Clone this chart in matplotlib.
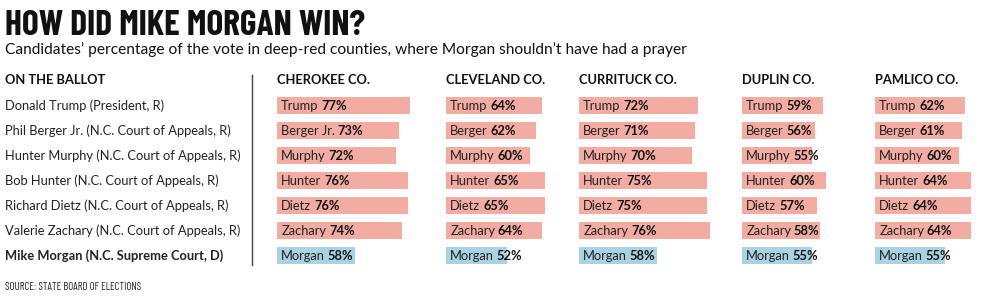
import matplotlib
matplotlib.use("Agg")
import matplotlib.pyplot as plt
from matplotlib.lines import Line2D
from matplotlib.transforms import blended_transform_factory

# ---- data ----
candidates = [
    "Donald Trump (President, R)",
    "Phil Berger Jr. (N.C. Court of Appeals, R)",
    "Hunter Murphy (N.C. Court of Appeals, R)",
    "Bob Hunter (N.C. Court of Appeals, R)",
    "Richard Dietz (N.C. Court of Appeals, R)",
    "Valerie Zachary (N.C. Court of Appeals, R)",
    "Mike Morgan (N.C. Supreme Court, D)",
]
counties = ["CHEROKEE CO.", "CLEVELAND CO.", "CURRITUCK CO.", "DUPLIN CO.", "PAMLICO CO."]
short_names = {
    "CHEROKEE CO.": ["Trump", "Berger Jr.", "Murphy", "Hunter", "Dietz", "Zachary", "Morgan"],
    "CLEVELAND CO.": ["Trump", "Berger", "Murphy", "Hunter", "Dietz", "Zachary", "Morgan"],
    "CURRITUCK CO.": ["Trump", "Berger", "Murphy", "Hunter", "Dietz", "Zachary", "Morgan"],
    "DUPLIN CO.": ["Trump", "Berger", "Murphy", "Hunter", "Dietz", "Zachary", "Morgan"],
    "PAMLICO CO.": ["Trump", "Berger", "Murphy", "Hunter", "Dietz", "Zachary", "Morgan"],
}
cherokee = [77, 73, 72, 76, 76, 74, 58]
cleveland = [64, 62, 60, 65, 65, 64, 52]
currituck = [72, 71, 70, 75, 75, 76, 58]
duplin = [59, 56, 55, 60, 57, 58, 55]
pamlico = [62, 61, 60, 64, 64, 64, 55]
values = [cherokee, cleveland, currituck, duplin, pamlico]
parties = ["R", "R", "R", "R", "R", "R", "D"]

title = "HOW DID MIKE MORGAN WIN?"
subtitle = "Candidates\u2019 percentage of the vote in deep-red counties, where Morgan shouldn\u2019t have had a prayer"
left_header = "ON THE BALLOT"
source = "SOURCE: STATE BOARD OF ELECTIONS"

# ---- style ----
W, H = 1000, 297
RED = "#f3aca2"
BLUE = "#a9d3e3"
BODY = "Lato"
COND = ["Barlow Condensed", "Fira Sans Condensed", "Archivo Narrow", "DejaVu Sans"]
BASE = 31          # bar baseline value
PX_PER_PCT = 2.9
col_x = [277, 446, 579, 742, 875]
row_top, row_bot = 93, 268.5
ax_w = 160

fig = plt.figure(figsize=(W / 100, H / 100), dpi=100)
fig.patch.set_facecolor("white")

def fx(px):
    return px / W

def fy(py):
    return 1 - py / H

fig.text(fx(5), fy(35), title, fontsize=25.5, fontweight="bold", family=COND,
         va="baseline", ha="left", color="#111111")
fig.text(fx(5), fy(54), subtitle, fontsize=11.2, family=BODY,
         va="baseline", ha="left", color="#111111")
fig.text(fx(5), fy(290), source, fontsize=7.8, family=COND,
         va="baseline", ha="left", color="#222222")

fig.add_artist(Line2D([fx(252), fx(252)], [fy(75), fy(265)],
                      transform=fig.transFigure, color="#444444", lw=1))

axes = []
for i, (county, vals) in enumerate(zip(counties, values)):
    ax = fig.add_axes([fx(col_x[i]), fy(row_bot), ax_w / W, (row_bot - row_top) / H])
    ax.set_xlim(BASE, BASE + ax_w / PX_PER_PCT)
    ax.set_ylim(len(vals) - 0.5, -0.5)
    ax.axis("off")
    colors = [RED if p == "R" else BLUE for p in parties]
    ax.barh(range(len(vals)), vals, height=0.68, color=colors)
    ax.text(BASE, -1, county, fontsize=9.3, fontweight="bold", family=BODY,
            va="center", ha="left", color="#111111", clip_on=False)
    for j, (nm, v) in enumerate(zip(short_names[county], vals)):
        t = ax.annotate(nm, xy=(BASE, j), xytext=(3, 0), textcoords="offset points",
                        fontsize=9.3, family=BODY, va="center", ha="left", color="#222222")
        ax.annotate(f"{v}%", xy=(1, 0), xycoords=t, xytext=(2.0, 0), textcoords="offset points",
                    fontsize=9.3, family=BODY, fontweight="bold", va="bottom", ha="left",
                    color="#111111")
    axes.append(ax)

ax0 = axes[0]
tr = blended_transform_factory(fig.transFigure, ax0.transData)
ax0.text(fx(5), -1, left_header, transform=tr, fontsize=9.3, fontweight="bold",
         family=BODY, va="center", ha="left", color="#111111", clip_on=False)
for j, c in enumerate(candidates):
    ax0.text(fx(5), j, c, transform=tr, fontsize=9.3, family=BODY,
             fontweight="bold" if parties[j] == "D" else "normal",
             va="center", ha="left", color="#222222", clip_on=False)

fig.savefig("out.png", dpi=100, facecolor="white")
